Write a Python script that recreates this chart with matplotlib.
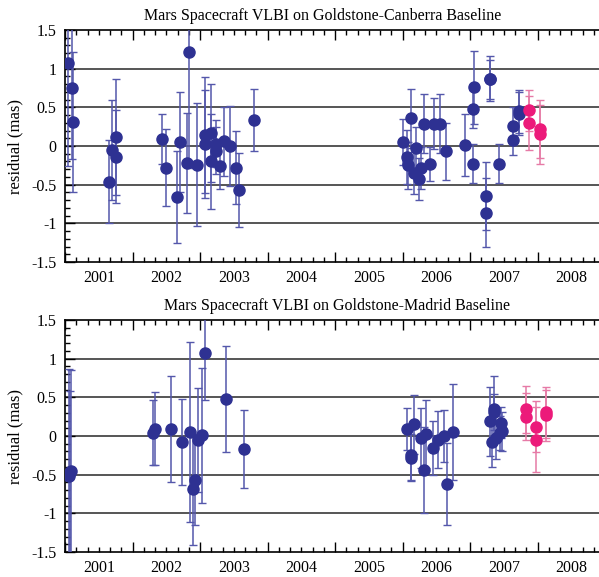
import matplotlib
matplotlib.use("Agg")
import matplotlib.pyplot as plt
import numpy as np

plt.rcParams['font.family'] = ['Liberation Serif', 'DejaVu Serif']
plt.rcParams['axes.unicode_minus'] = False

titles = ["Mars Spacecraft VLBI on Goldstone-Canberra Baseline",
          "Mars Spacecraft VLBI on Goldstone-Madrid Baseline"]
ylabel = "residual (mas)"
year_labels = ["2001", "2002", "2003", "2004", "2005", "2006", "2007", "2008"]
ytick_vals = [-1.5, -1, -0.5, 0, 0.5, 1, 1.5]
ytick_labels = ["-1.5", "-1", "-0.5", "0", "0.5", "1", "1.5"]

# Top panel (Goldstone-Canberra)
top_blue_t = [2001.04, 2001.10, 2001.12, 2001.65, 2001.70, 2001.76, 2001.76, 2002.43, 2002.50,
              2002.66, 2002.70, 2002.80, 2002.84, 2002.96, 2003.08, 2003.08, 2003.16, 2003.17,
              2003.23, 2003.24, 2003.29, 2003.35, 2003.44, 2003.54, 2003.58, 2003.80,
              2006.01, 2006.06, 2006.08, 2006.13, 2006.17, 2006.20, 2006.24, 2006.28, 2006.32,
              2006.41, 2006.46, 2006.56, 2006.65, 2006.92, 2007.05, 2007.06, 2007.05, 2007.23,
              2007.24, 2007.29, 2007.30, 2007.43, 2007.63, 2007.63, 2007.73, 2007.73]
top_blue_v = [1.07, 0.75, 0.31, -0.46, -0.05, 0.12, -0.14, 0.09, -0.28,
              -0.66, 0.05, -0.22, 1.21, -0.24, 0.14, 0.03, 0.17, -0.20,
              0.03, -0.06, -0.26, 0.06, 0.0, -0.28, -0.57, 0.34,
              0.05, -0.14, -0.25, 0.36, -0.35, -0.02, -0.43, -0.28, 0.29,
              -0.23, 0.29, 0.29, -0.07, 0.01, 0.48, 0.76, -0.23, -0.65,
              -0.86, 0.87, 0.86, -0.23, 0.26, 0.08, 0.45, 0.42]
top_blue_e = [1.33, 0.92, 0.91, 0.54, 0.65, 0.75, 0.6, 0.32, 0.5,
              0.6, 0.65, 0.65, 1.5, 0.8, 0.75, 0.7, 0.63, 0.62,
              0.3, 0.3, 0.3, 0.45, 0.52, 0.47, 0.48, 0.4,
              0.3, 0.35, 0.3, 0.38, 0.27, 0.27, 0.27, 0.27, 0.38,
              0.22, 0.33, 0.38, 0.37, 0.4, 0.25, 0.47, 0.25, 0.44,
              0.45, 0.29, 0.25, 0.25, 0.25, 0.2, 0.28, 0.28]
top_pink_t = [2007.87, 2007.87, 2008.03, 2008.03]
top_pink_v = [0.46, 0.30, 0.22, 0.15]
top_pink_e = [0.27, 0.35, 0.38, 0.38]

# Bottom panel (Goldstone-Madrid)
bot_blue_t = [2001.06, 2001.08, 2001.09, 2002.31, 2002.34, 2002.57, 2002.73, 2002.85, 2002.89,
              2002.93, 2002.97, 2003.03, 2003.07, 2003.39, 2003.65,
              2006.07, 2006.12, 2006.13, 2006.17, 2006.27, 2006.32, 2006.35, 2006.45, 2006.52,
              2006.61, 2006.66, 2006.75,
              2007.29, 2007.32, 2007.35, 2007.36, 2007.39, 2007.44, 2007.46, 2007.47]
bot_blue_v = [-0.52, -0.47, -0.45, 0.04, 0.095, 0.09, -0.08, 0.05, -0.69,
              -0.57, -0.05, 0.01, 1.07, 0.48, -0.17,
              0.09, -0.28, -0.24, 0.15, -0.03, -0.44, 0.03, -0.16, -0.05,
              0.0, -0.62, 0.05,
              0.19, -0.08, 0.35, 0.31, -0.02, 0.04, 0.17, 0.06]
bot_blue_e = [1.38, 1.05, 1.3, 0.42, 0.47, 0.69, 0.56, 1.16, 0.72,
              0.58, 0.67, 0.87, 0.6, 0.69, 0.5,
              0.27, 0.3, 0.33, 0.38, 0.39, 0.56, 0.44, 0.35, 0.37,
              0.33, 0.53, 0.62,
              0.45, 0.32, 0.42, 0.23, 0.28, 0.22, 0.2, 0.25]
bot_pink_t = [2007.83, 2007.83, 2007.97, 2007.97, 2008.13, 2008.13]
bot_pink_v = [0.345, 0.25, 0.12, -0.05, 0.31, 0.27]
bot_pink_e = [0.3, 0.3, 0.33, 0.42, 0.33, 0.33]

BLUE = '#2e3192'
BLUE_ERR = '#5457ab'
PINK = '#ec1a7a'
PINK_ERR = '#e67aa6'

fig = plt.figure(figsize=(5.99, 5.77), dpi=100)
ax_top = fig.add_axes([65/599, 315/577, 534/599, 232/577])
ax_bot = fig.add_axes([65/599, 25/577, 534/599, 232/577])

panels = [
    (ax_top, titles[0], 0.482, top_blue_t, top_blue_v, top_blue_e, top_pink_t, top_pink_v, top_pink_e),
    (ax_bot, titles[1], 0.51, bot_blue_t, bot_blue_v, bot_blue_e, bot_pink_t, bot_pink_v, bot_pink_e),
]

for ax, title, tx, bt, bv, be, pt, pv, pe in panels:
    ax.set_xlim(2001.0, 2008.91)
    ax.set_ylim(-1.5, 1.5)
    for g in [-1, -0.5, 0, 0.5, 1]:
        ax.axhline(g, color='#555555', lw=1.4, zorder=0)
    ax.errorbar(bt, bv, yerr=be, fmt='o', color=BLUE, ecolor=BLUE_ERR, elinewidth=1.1,
                capsize=3, capthick=1.0, ms=8, zorder=3)
    ax.errorbar(pt, pv, yerr=pe, fmt='o', color=PINK, ecolor=PINK_ERR, elinewidth=1.1,
                capsize=3, capthick=1.0, ms=8, zorder=3)
    ax.set_title(title, fontsize=11.5, pad=7, x=tx)
    ax.set_ylabel(ylabel, fontsize=12)
    ax.spines['right'].set_visible(False)
    for s in ['left', 'top', 'bottom']:
        ax.spines[s].set_linewidth(1.2)
    years = np.arange(2001, 2009)
    ax.set_xticks(list(years), minor=False)
    ax.set_xticklabels([''] * len(years))
    ax.set_xticks([y + m / 6 for y in years for m in range(1, 6)], minor=True)
    ax.tick_params(axis='x', which='major', direction='in', length=7, width=1.0,
                   top=True, bottom=True)
    ax.tick_params(axis='x', which='minor', direction='in', length=3.5, width=1.0,
                   top=True, bottom=True)
    for y, lab in zip(years, year_labels):
        ax.text(y + 0.5, -0.035, lab, transform=ax.get_xaxis_transform(),
                ha='center', va='top', fontsize=11.5)
    ax.set_yticks(ytick_vals)
    ax.set_yticklabels(ytick_labels, fontsize=11.5)
    ax.set_yticks(np.round(np.arange(-1.5, 1.51, 0.1), 2), minor=True)
    ax.tick_params(axis='y', which='major', direction='in', length=7, width=1.0, pad=6)
    ax.tick_params(axis='y', which='minor', direction='in', length=3.5, width=1.0)
    ax.yaxis.set_label_coords(-0.078, 0.5)

fig.savefig('out.png', dpi=100)
